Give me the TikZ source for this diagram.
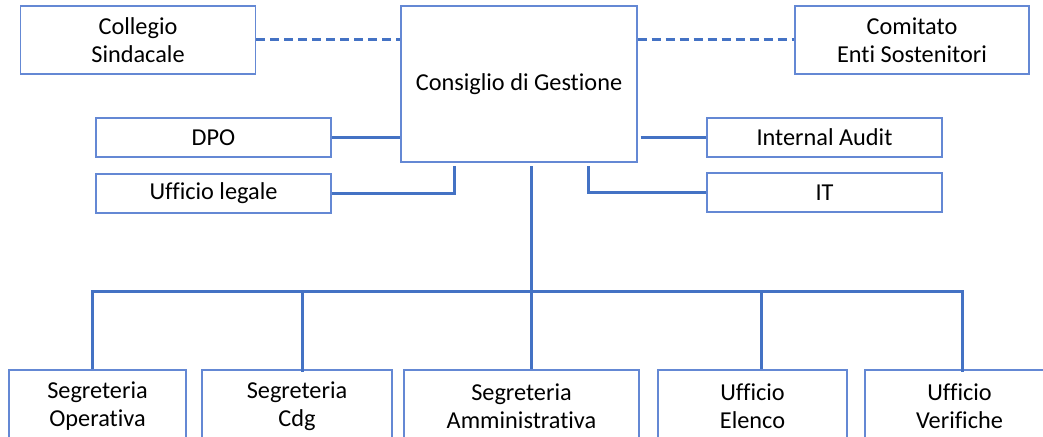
\documentclass[tikz,border=0pt]{standalone}
\usepackage{fontspec}
\setmainfont{Carlito}[Ligatures={NoCommon}]
\definecolor{boxc}{RGB}{100,136,212}
\definecolor{linec}{RGB}{68,114,196}
\begin{document}
\begin{tikzpicture}[x=1pt,y=-1pt,
  box/.style={draw=boxc,line width=1.3pt,fill=white,minimum width=#1,inner sep=0pt,align=center,
    font=\fontsize{24.3}{28.5}\selectfont},
  box/.default=235pt,
  conn/.style={draw=linec,line width=3pt},
  dconn/.style={draw=linec,line width=3pt,dash pattern=on 9pt off 5pt}]
\useasboundingbox (0,0) rectangle (1043,436);
\begin{scope}
\clip (0,0) rectangle (1043,436);
% top row
\node[box=235pt,minimum height=68pt] (cs) at (138,40) {Collegio\\Sindacale};
\node[box=236pt,minimum height=156pt] (cg) at (519,84) {Consiglio di Gestione};
\node[box=234pt,minimum height=68pt] (ce) at (912,40) {Comitato\\Enti Sostenitori};
\node[box=235pt,minimum height=39pt] (dpo) at (213.5,137.5) {DPO};
\node[box=235pt,minimum height=39pt] (leg) at (213.5,193.5) {Ufficio legale};
\node[box=235pt,minimum height=39pt] (ia) at (824.5,137.5) {Internal Audit};
\node[box=235pt,minimum height=39pt] (it) at (824.5,192.5) {IT};
% bottom row
\node[box=177pt,minimum height=72pt] (so) at (97.5,406) {Segreteria\\Operativa};
\node[box=190pt,minimum height=72pt] (sc) at (297,406) {Segreteria\\Cdg};
\node[box=235pt,minimum height=72pt] (sa) at (521.5,406) {Segreteria\\Amministrativa};
\node[box=189pt,minimum height=72pt] (ue) at (752.5,406) {Ufficio\\Elenco};
\node[box=189pt,minimum height=72pt] (uv) at (959.5,406) {Ufficio\\Verifiche};
% coordinates
\coordinate (legtop) at (454,166);
\coordinate (ittop) at (588,166);
\coordinate (midtop) at (531,166);
\coordinate (busL) at (92,291);
\coordinate (busR) at (962,291);
\coordinate (busM) at (531,291);
% dashed
\path[dconn] (cs.east) -- (cs.east -| cg.west);
\path[dconn] (ce.west -| cg.east) -- (ce.west);
% staff
\path[conn] (dpo.east) -- (dpo.east -| cg.west);
\path[conn] ([xshift=3pt]ia.west -| cg.east) -- (ia.west);
\path[conn] (leg.east) -| (legtop);
\path[conn] (it.west) -| (ittop);
\path[conn] (midtop) -- (busM);
% bus
\path[conn] (busL |- so.north) -- (busL) -- (busR) -- ([yshift=-3pt]busR |- uv.north);
\path[conn] ([xshift=5pt]sc.north |- busL) -- ([xshift=5pt,yshift=-3pt]sc.north);
\path[conn] (busM) -- (busM |- sa.north);
\path[conn] ([xshift=8.5pt]ue.north |- busL) -- ([xshift=8.5pt]ue.north);
\end{scope}
\end{tikzpicture}
\end{document}
